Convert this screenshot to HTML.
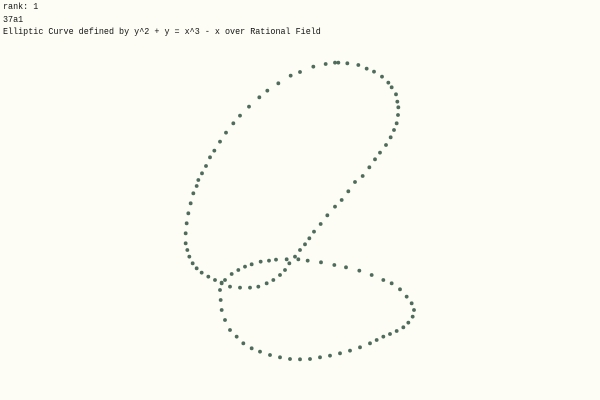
<!DOCTYPE html>
<html><head><meta charset="utf-8"><style>
html,body{margin:0;padding:0;background:#fdfdf5;}
#wrap{position:relative;width:600px;height:400px;overflow:hidden;background:#fdfdf5;}
.t{position:absolute;left:3px;font-family:"Liberation Mono",monospace;font-size:9.5px;color:#111;white-space:pre;line-height:12px;transform:scaleX(0.885);transform-origin:0 0;}
svg{position:absolute;left:0;top:0;}
</style></head><body>
<div id="wrap">
<div class="t" style="top:1px">rank: 1</div>
<div class="t" style="top:14px">37a1</div>
<div class="t" style="top:26px">Elliptic Curve defined by y^2 + y = x^3 - x over Rational Field</div>
<svg id="plot" width="600" height="400"></svg>
</div>
<script>
const xs=[150,152,155,165,180,200,220,245,270,300,330,360,390,420,450,480,510,540,570,600,620,640,660,680,700,715,728,732,725,710,690,665,640,605,568,528,493,453,413,385,350,318,297,272,245,225,205,185,165,155,
180,210,240,265,290,310,330,345,358,375,390,405,418,432,452,472,495,515,535,555,578,598,615,630,648,662,672,680,684,685,682,678,665,655,636,612,590,565,532,505,495,467,430,390,362,325,292,268,237,210,190,168,150,133,120,108,96,85,80,70,62,55,50,47,47,52,58,68,80,95,115,135,155];
const ys=[720,750,780,810,840,860,880,895,905,915,922,927,928,927,922,917,910,902,892,880,870,860,852,843,832,818,800,780,760,740,718,700,690,675,662,652,645,637,632,628,628,629,632,635,643,650,660,672,690,700,
710,713,713,710,700,690,675,660,640,620,600,583,565,545,522,496,470,450,424,396,378,352,328,308,285,262,240,220,195,172,155,133,112,98,80,65,56,45,40,38,38,42,50,66,77,100,122,142,170,197,220,248,275,302,322,348,370,390,408,430,460,490,520,550,580,600,620,640,655,668,680,690,698];
const sx=v=>170+v/3, sy=v=>50+v/3;
const svg=document.getElementById('plot');
for(let i=0;i<xs.length;i++){
  const c=document.createElementNS('http://www.w3.org/2000/svg','circle');
  c.setAttribute('cx',sx(xs[i]));c.setAttribute('cy',sy(ys[i]));c.setAttribute('r',1.9);
  c.setAttribute('fill','#4f6b5c');
  
  
  svg.appendChild(c);
}
</script>
</body></html>
